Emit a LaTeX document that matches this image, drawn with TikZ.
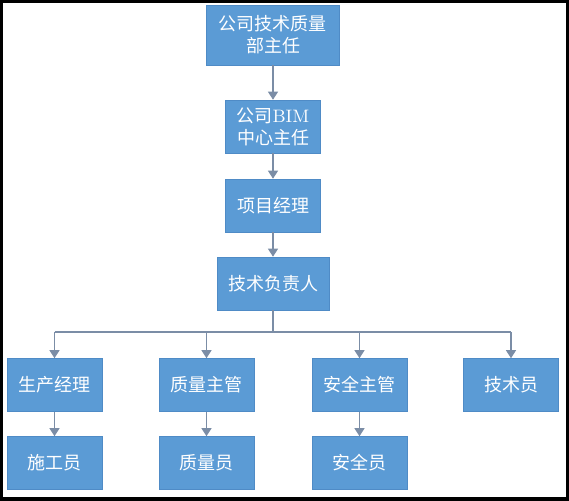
\documentclass[tikz,border=0pt]{standalone}
\usepackage{fontspec}
\newfontfamily\cjk{Noto Sans CJK SC}
\usetikzlibrary{arrows.meta}
\definecolor{boxblue}{HTML}{5B9BD5}
\definecolor{boxedge}{HTML}{4F8BC6}
\definecolor{linkgray}{HTML}{7B8DA6}

\begin{document}
\begin{tikzpicture}[x=0.5pt, y=-0.5pt,
    post/.style={fill=boxblue, draw=boxedge, line width=0.3pt, text=white,
	font=\fontsize{9}{11}\selectfont\cjk, align=center, inner sep=0pt,
	minimum width=47.5pt, minimum height=26.5pt},
    link/.style={draw=linkgray, line width=0.6pt},
    linkarrow/.style={link, -{Triangle[width=5pt, length=4pt]}}]
    \useasboundingbox (0, 0) rectangle (569, 500);
    \draw[line width=3pt] (0, 0) rectangle (569, 500);
    \node[post, minimum width=66.5pt, minimum height=30pt] (chief) at (273, 35) {公司技术质量\\部主任};
    \node[post] (bim) at (273, 126.5) {公司{\rmfamily BIM}\\中心主任};
    \node[post] (pm) at (273, 205.5) {项目经理};
    \node[post, minimum width=56pt] (tech) at (273, 283.5) {技术负责人};
    \node[post] (prod) at (54.5, 385) {生产经理};
    \node[post] (qual) at (206.5, 385) {质量主管};
    \node[post] (safe) at (359.5, 385) {安全主管};
    \node[post] (techman) at (511, 385) {技术员};
    \node[post] (worker) at (54.5, 463) {施工员};
    \node[post] (qualman) at (206.5, 463) {质量员};
    \node[post] (safeman) at (359.5, 463) {安全员};
    \coordinate (bus) at (273, 332);
    \draw[linkarrow] (chief) -- (bim);
    \draw[linkarrow] (bim) -- (pm);
    \draw[linkarrow] (pm) -- (tech);
    \draw[link] (tech) -- (bus);
    \draw[link] (prod.north |- bus) -- (techman.north |- bus);
    \foreach \n in {prod, qual, safe, techman}
	\draw[linkarrow] (\n.north |- bus) -- (\n.north);
    \draw[linkarrow] (prod) -- (worker);
    \draw[linkarrow] (qual) -- (qualman);
    \draw[linkarrow] (safe) -- (safeman);
\end{tikzpicture}
\end{document}
